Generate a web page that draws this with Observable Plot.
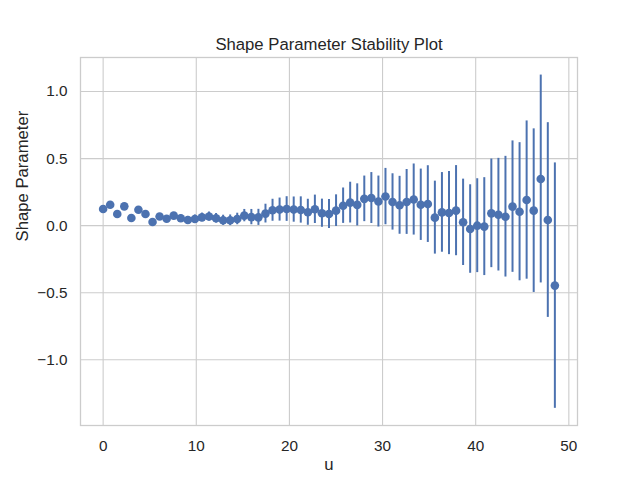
<!DOCTYPE html>
<html>
<head>
<meta charset="utf-8">
<script src="https://cdn.jsdelivr.net/npm/d3@7"></script>
<script src="https://cdn.jsdelivr.net/npm/@observablehq/plot@0.6"></script>
<style>
  html, body { margin: 0; padding: 0; background: #fff; }
</style>
</head>
<body>
<div id="chart"></div>
<script>
// Threshold values u
const uValues = [
  0.000, 0.758, 1.516, 2.273, 3.031, 3.789, 4.547, 5.305, 6.063, 6.820,
  7.578, 8.336, 9.094, 9.852, 10.609, 11.367, 12.125, 12.883, 13.641, 14.398,
  15.156, 15.914, 16.672, 17.430, 18.188, 18.945, 19.703, 20.461, 21.219, 21.977,
  22.734, 23.492, 24.250, 25.008, 25.766, 26.523, 27.281, 28.039, 28.797, 29.555,
  30.313, 31.070, 31.828, 32.586, 33.344, 34.102, 34.859, 35.617, 36.375, 37.133,
  37.891, 38.648, 39.406, 40.164, 40.922, 41.680, 42.438, 43.195, 43.953, 44.711,
  45.469, 46.227, 46.984, 47.742, 48.500
];
// Estimated shape parameter
const shapeValues = [
  0.124, 0.156, 0.087, 0.144, 0.057, 0.119, 0.087, 0.027, 0.068, 0.052,
  0.075, 0.055, 0.042, 0.050, 0.062, 0.068, 0.055, 0.040, 0.040, 0.050,
  0.075, 0.064, 0.062, 0.090, 0.115, 0.120, 0.124, 0.120, 0.117, 0.100,
  0.122, 0.093, 0.087, 0.112, 0.149, 0.172, 0.155, 0.200, 0.206, 0.180,
  0.217, 0.177, 0.152, 0.177, 0.195, 0.156, 0.161, 0.060, 0.099, 0.094,
  0.112, 0.025, -0.025, 0.000, -0.007, 0.092, 0.082, 0.067, 0.142, 0.104,
  0.191, 0.112, 0.348, 0.042, -0.447
];
// Half-width of confidence interval
const errValues = [
  0.008, 0.008, 0.009, 0.010, 0.010, 0.011, 0.012, 0.013, 0.018, 0.020,
  0.023, 0.025, 0.027, 0.030, 0.032, 0.034, 0.036, 0.038, 0.040, 0.043,
  0.046, 0.057, 0.060, 0.070, 0.082, 0.086, 0.092, 0.094, 0.098, 0.097,
  0.106, 0.105, 0.108, 0.118, 0.132, 0.152, 0.157, 0.170, 0.190, 0.190,
  0.210, 0.210, 0.216, 0.242, 0.265, 0.266, 0.286, 0.272, 0.297, 0.310,
  0.336, 0.322, 0.330, 0.350, 0.365, 0.405, 0.420, 0.450, 0.490, 0.515,
  0.590, 0.610, 0.775, 0.726, 0.915
];
const xTicks = [0, 10, 20, 30, 40, 50];
const yTicks = [-1.0, -0.5, 0.0, 0.5, 1.0];
const titleText = "Shape Parameter Stability Plot";
const xLabel = "u";
const yLabel = "Shape Parameter";

const data = uValues.map((u, i) => ({u, shape: shapeValues[i], err: errValues[i]}));

const blue = "#4c72b0";
const gridColor = "#cccccc";
const fmt = d3.format(".1f");

const chart = Plot.plot({
  width: 640,
  height: 478,
  marginLeft: 80,
  marginRight: 63,
  marginTop: 57,
  marginBottom: 53,
  style: {fontFamily: "'Liberation Sans', Arial, sans-serif", fontSize: "15.3px", color: "#262626", background: "#fff"},
  x: {domain: [-2.43, 50.93]},
  y: {domain: [-1.49, 1.254]},
  marks: [
    Plot.gridX(xTicks, {stroke: gridColor, strokeOpacity: 1, strokeWidth: 1.1}),
    Plot.gridY(yTicks, {stroke: gridColor, strokeOpacity: 1, strokeWidth: 1.1}),
    Plot.frame({stroke: gridColor, strokeWidth: 1.3}),
    Plot.axisX(xTicks, {tickSize: 0, tickPadding: 15, label: null, fontSize: 15.3}),
    Plot.axisY(yTicks, {tickSize: 0, tickPadding: 13, label: null, tickFormat: fmt, fontSize: 15.3}),
    Plot.ruleX(data, {x: "u", y1: d => d.shape - d.err, y2: d => d.shape + d.err, stroke: blue, strokeWidth: 2}),
    Plot.dot(data, {x: "u", y: "shape", r: 4.3, fill: blue, stroke: "none"}),
    Plot.text([titleText], {text: d => d, frameAnchor: "top", lineAnchor: "middle", dy: -13, fontSize: 16.7, fill: "#262626"}),
    Plot.text([xLabel], {text: d => d, frameAnchor: "bottom", lineAnchor: "middle", dy: 39, fontSize: 16.7, fill: "#262626"}),
    Plot.text([yLabel], {text: d => d, frameAnchor: "left", lineAnchor: "middle", dx: -58, rotate: -90, fontSize: 16.7, fill: "#262626"})
  ]
});
document.getElementById("chart").appendChild(chart);
</script>
</body>
</html>
